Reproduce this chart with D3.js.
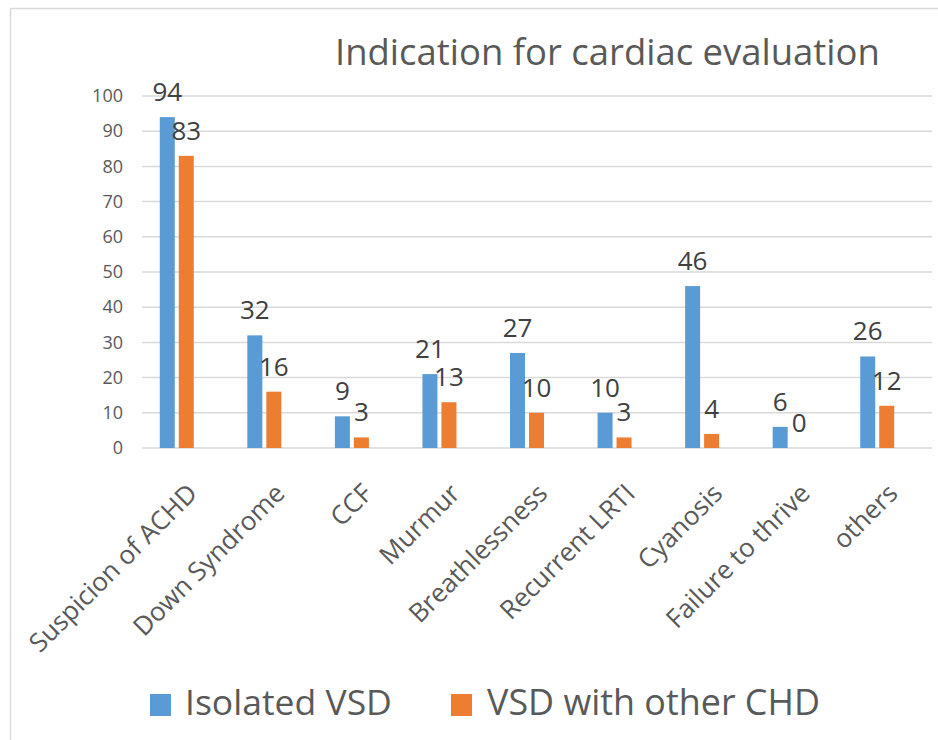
<!DOCTYPE html>
<html>
<head>
<meta charset="utf-8">
<script src="https://cdn.jsdelivr.net/npm/d3@7"></script>
<style>
  html, body { margin: 0; padding: 0; background: #fff; }
  svg { display: block; font-family: "Open Sans", sans-serif; }
</style>
</head>
<body>
<svg id="chart" width="938" height="740"></svg>
<script>
// ---- data ----
const title = "Indication for cardiac evaluation";
const categories = ["Suspicion of ACHD", "Down Syndrome", "CCF", "Murmur", "Breathlessness",
                    "Recurrent LRTI", "Cyanosis", "Failure to thrive", "others"];
const seriesNames = ["Isolated VSD", "VSD with other CHD"];
const isolatedVSD = [94, 32, 9, 21, 27, 10, 46, 6, 26];
const vsdWithOtherCHD = [83, 16, 3, 13, 10, 3, 4, 0, 12];
const yTicks = [0, 10, 20, 30, 40, 50, 60, 70, 80, 90, 100];
const colors = ["#5b9bd5", "#ed7d31"];

const seriesValues = [isolatedVSD, vsdWithOtherCHD];
const rows = categories.map((c, i) => ({
  category: c,
  values: seriesNames.map((s, k) => ({ series: s, value: seriesValues[k][i], k }))
}));

const svg = d3.select("#chart");

// outer chart frame
svg.append("rect").attr("x", 10.5).attr("y", 8.5).attr("width", 1000).attr("height", 1000)
  .attr("fill", "none").attr("stroke", "#d9d9d9").attr("stroke-width", 1.5);

const y = d3.scaleLinear().domain([0, 100]).range([448, 96]);
const x0 = d3.scaleBand().domain(categories).range([133, 921]).paddingInner(0).paddingOuter(0);
const x1 = d3.scaleBand().domain(seriesNames).range([-17, 17]).paddingInner(0.21);

// gridlines
svg.append("g").selectAll("line").data(yTicks).join("line")
  .attr("x1", 142).attr("x2", 932)
  .attr("y1", d => y(d)).attr("y2", d => y(d))
  .attr("stroke", "#d9d9d9").attr("stroke-width", 1.5);

// y axis labels
const yAxis = d3.axisLeft(y).tickValues(yTicks).tickSize(0).tickPadding(0);
const yg = svg.append("g").attr("transform", "translate(123,0)").call(yAxis);
yg.select(".domain").remove();
yg.selectAll("text").attr("font-size", 18).attr("fill", "#595959")
  .attr("font-family", "Open Sans, sans-serif");

// bars
const groups = svg.append("g").selectAll("g").data(rows).join("g")
  .attr("transform", d => `translate(${x0(d.category) + x0.bandwidth() / 2},0)`);

groups.selectAll("rect").data(d => d.values).join("rect")
  .attr("x", d => x1(d.series))
  .attr("width", x1.bandwidth())
  .attr("y", d => y(d.value))
  .attr("height", d => y(0) - y(d.value))
  .attr("fill", d => colors[d.k]);

groups.selectAll("text").data(d => d.values).join("text")
  .attr("x", d => x1(d.series) + x1.bandwidth() / 2)
  .attr("y", d => y(d.value) - 16)
  .attr("text-anchor", "middle")
  .attr("font-size", 26)
  .attr("fill", "#404040")
  .text(d => d.value);

// x axis labels (rotated)
svg.append("g").selectAll("text").data(categories).join("text")
  .attr("transform", d => `translate(${x0(d) + x0.bandwidth() / 2 + 22},495) rotate(-45)`)
  .attr("text-anchor", "end")
  .attr("font-size", 26)
  .attr("fill", "#595959")
  .text(d => d);

// title
const t = svg.append("text").attr("x", 335).attr("y", 65)
  .attr("font-size", 36).attr("fill", "#595959").text(title);
const tw = t.node().getComputedTextLength();
t.attr("font-size", 36 * 545 / tw);

// legend
const legendX = [150, 451];
const legendTextX = [185, 487];
const legendW = [207, 333];
const lg = svg.append("g").selectAll("g").data(seriesNames).join("g");
lg.append("rect").attr("x", (d, i) => legendX[i]).attr("y", 694)
  .attr("width", 21).attr("height", 22).attr("fill", (d, i) => colors[i]);
lg.append("text").attr("x", (d, i) => legendTextX[i]).attr("y", 715)
  .attr("font-size", 35).attr("fill", "#595959").text(d => d)
  .each(function (d, i) {
    const w = this.getComputedTextLength();
    d3.select(this).attr("font-size", 35 * legendW[i] / w);
  });
</script>
</body>
</html>
